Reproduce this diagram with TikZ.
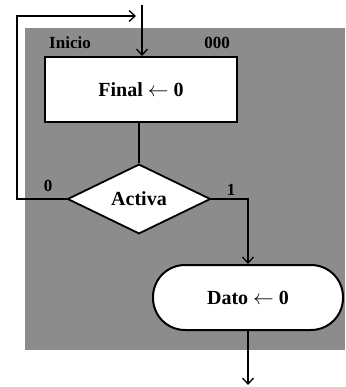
\documentclass[tikz,border=0pt]{standalone}
\usepackage{fontspec}
\setmainfont{Liberation Serif}
\usetikzlibrary{shapes.geometric,arrows.meta}
\begin{document}
\begin{tikzpicture}[x=1pt,y=-1pt,
  box/.style={draw=black,line width=2pt,fill=white,font=\fontsize{20}{23}\selectfont\bfseries},
  procbox/.style={box,rectangle,minimum width=192pt,minimum height=65pt},
  decision/.style={box,diamond,minimum width=143pt,minimum height=62pt,inner sep=0pt,line width=1.8pt},
  terminal/.style={box,rectangle,rounded corners=32pt,minimum width=190pt,minimum height=65pt},
  lbl/.style={font=\fontsize{17}{19}\selectfont\bfseries,inner sep=0pt},
  conn/.style={draw=black,line width=1.4pt},
  arr/.style={conn,-{Straight Barb[length=6pt,width=11pt,line width=1.3pt]}}]
\useasboundingbox (0,0) rectangle (345,387);
\fill[black!45] (25,28) rectangle (345,350);
\node[procbox] (final) at (141,89.5) {Final $\leftarrow$ 0};
\node[decision] (activa) at (139,199) {Activa};
\node[terminal] (dato) at (248,297.5) {Dato $\leftarrow$ 0};
\coordinate (top) at (142,5);
\coordinate (lc) at (17,199);
\coordinate (lt) at (17,16);
\coordinate (le) at (136,16);
\coordinate (out) at (248,385);
\draw[arr] (top) -- (top |- final.north);
\draw[arr] (activa.west) -- (lc) -- (lt) -- (le);
\draw[conn] (final.south -| activa.north) -- (activa.north);
\draw[arr] (activa.east) -| (dato.north);
\draw[arr] (dato.south) -- (out);
\node[lbl] (inicio) at (70,43) {Inicio};
\node[lbl] (ooo) at (217,43) {000};
\node[lbl] (l0) at (48,186) {0};
\node[lbl] (l1) at (231,190) {1};
\end{tikzpicture}
\end{document}
